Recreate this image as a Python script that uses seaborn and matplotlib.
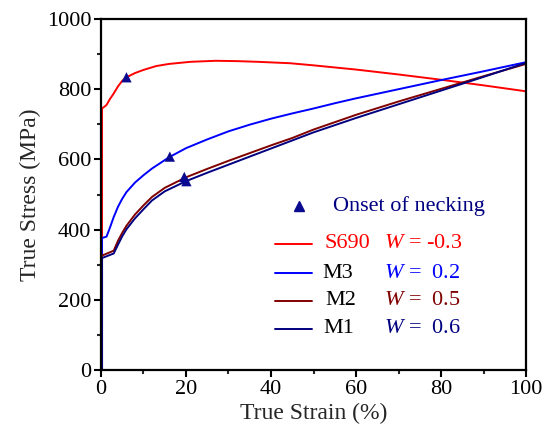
import matplotlib
matplotlib.use('Agg')
import matplotlib.pyplot as plt
import seaborn as sns
import pandas as pd
from matplotlib.ticker import MultipleLocator

# ── data (true strain %, true stress MPa) ──
s690_strain = [0.25, 0.25, 1.3, 2, 3, 4, 5, 6, 8, 10, 13, 16, 21, 27, 32, 37, 44.5, 50, 60, 70, 80, 90, 100]
s690_stress = [0, 745, 755, 770, 788, 808, 824, 834, 846, 855, 866, 872, 878, 881, 880, 878, 874, 868, 856, 842, 827, 811, 794]

m3_strain = [0.25, 0.25, 1.3, 2, 3, 4, 5, 6, 8, 10, 12, 16, 20, 25, 30, 35, 40, 45, 50, 55, 60, 70, 80, 90, 100]
m3_stress = [0, 376, 380, 402, 436, 465, 488, 507, 534, 555, 574, 606, 632, 657, 680, 699, 716, 731, 745, 760, 774, 800, 826, 851, 877]

m2_strain = [0.25, 0.25, 3, 4, 5, 6, 8, 10, 12, 15, 20, 25, 30, 35, 40, 45, 50, 60, 70, 80, 90, 100]
m2_stress = [0, 326, 340, 368, 391, 411, 443, 469, 493, 519, 549, 573, 596, 618, 640, 661, 685, 727, 765, 801, 837, 872]

m1_strain = [0.25, 0.25, 3, 4, 5, 6, 8, 10, 12, 15, 20, 25, 30, 35, 40, 45, 50, 60, 70, 80, 90, 100]
m1_stress = [0, 319, 332, 357, 381, 401, 432, 458, 483, 509, 538, 562, 585, 608, 631, 654, 677, 718, 757, 796, 835, 875]

# onset of necking points
neck_strain = [6.0, 16.2, 19.6, 20.1]
neck_stress = [834, 608, 550, 538]

names = ['S690', 'M3', 'M2', 'M1']
w_values = ['-0.3', ' 0.2', ' 0.5', ' 0.6']
colors = ['#FF0000', '#0000FF', '#800000', '#000080']
name_colors = ['#FF0000', '#000000', '#000000', '#000000']
curves = [(s690_strain, s690_stress), (m3_strain, m3_stress),
          (m2_strain, m2_stress), (m1_strain, m1_stress)]

sns.set_theme(style='white')
plt.rcParams['font.family'] = ['Liberation Serif', 'DejaVu Serif']
plt.rcParams['mathtext.fontset'] = 'custom'
plt.rcParams['mathtext.rm'] = 'Liberation Serif'
plt.rcParams['mathtext.it'] = 'Liberation Serif:italic'

FS = 16

fig = plt.figure(figsize=(5.5, 4.37), dpi=100)
ax = fig.add_axes([0.1836, 0.1533, 0.7728, 0.8032])

for (xs, ys), c in zip(curves, colors):
    sns.lineplot(x=xs, y=ys, color=c, sort=False, estimator=None,
                 linewidth=1.4, ax=ax)

neck = pd.DataFrame({'strain': neck_strain, 'stress': neck_stress})
sns.scatterplot(data=neck, x='strain', y='stress', marker='^', s=55,
                color='#0A0A90', edgecolor='none', ax=ax, zorder=5)

ax.set_xlim(0, 100)
ax.set_ylim(0, 1000)
ax.xaxis.set_major_locator(MultipleLocator(20))
ax.xaxis.set_minor_locator(MultipleLocator(10))
ax.yaxis.set_major_locator(MultipleLocator(200))
ax.yaxis.set_minor_locator(MultipleLocator(100))
ax.tick_params(which='major', direction='out', length=5, width=1.5,
               labelsize=FS, colors='black', pad=2,
               bottom=True, left=True, top=False, right=False)
ax.tick_params(which='minor', direction='out', length=3, width=1.5,
               bottom=True, left=True, top=False, right=False)
for sp in ax.spines.values():
    sp.set_linewidth(1.6)
    sp.set_color('black')

ax.set_xlabel('True Strain (%)', fontsize=17, labelpad=3)
ax.set_ylabel('True Stress (MPa)', fontsize=17, labelpad=4)

# ── legend drawn by hand (two coloured text columns) ──
ax.plot([0.466], [0.467], marker='^', ms=6.5, color='#0A0A90',
        linestyle='none', transform=ax.transAxes, clip_on=False)
ax.text(0.546, 0.467, 'Onset of necking', color='#000080', fontsize=FS,
        va='center', ha='left', transform=ax.transAxes)

rows_y = [0.359, 0.276, 0.197, 0.117]
name_x = [0.527, 0.521, 0.527, 0.524]
for y, nx, nm, nc, c, w in zip(rows_y, name_x, names, name_colors, colors, w_values):
    ax.plot([0.409, 0.496], [y, y], color=c, lw=1.4, transform=ax.transAxes)
    ax.text(nx, y, nm, color=nc, fontsize=FS, va='center', ha='left',
            transform=ax.transAxes)
    ax.text(0.666, y, r'$W$ = ' + w, color=c, fontsize=FS, va='center',
            ha='left', transform=ax.transAxes)

plt.savefig('out.png', dpi=100)
